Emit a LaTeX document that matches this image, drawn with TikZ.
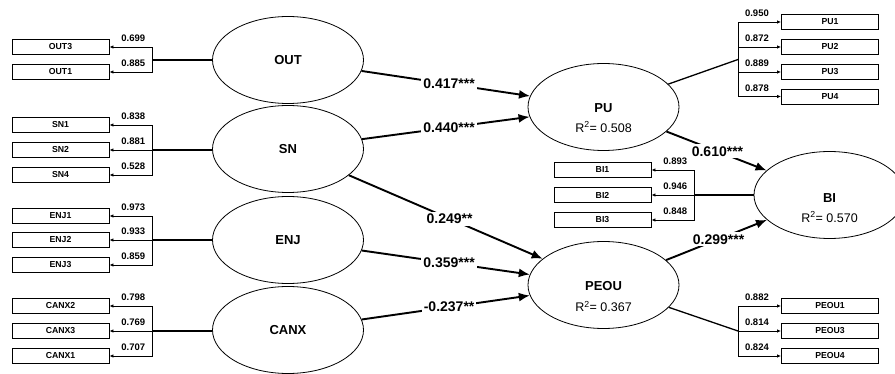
\documentclass[tikz,border=0pt]{standalone}
\usepackage{fontspec}
\setmainfont{Liberation Sans}
\usetikzlibrary{arrows.meta,shapes.geometric}
\begin{document}
\begin{tikzpicture}[x=1pt,y=-1pt,
  latent/.style={draw, ellipse, line width=0.8pt, minimum width=151pt, minimum height=87pt,
                 inner sep=0pt, font=\fontsize{13}{15}\selectfont\bfseries},
  ind/.style={draw, rectangle, line width=0.9pt, minimum width=97pt, minimum height=15pt,
              inner sep=0pt, font=\fontsize{8.7}{10}\selectfont\bfseries},
  load/.style={line width=0.9pt, -{Latex[length=4pt,width=3.5pt]}},
  stem/.style={line width=1.3pt},
  lval/.style={pos=0.72, above=4.5pt, inner sep=0pt, font=\fontsize{9.5}{11}\selectfont\bfseries},
  struct/.style={line width=1.9pt, -{Latex[length=11pt,width=9pt]}},
  coef/.style={pos=0.52, fill=white, inner sep=2pt, font=\fontsize{14}{16}\selectfont\bfseries},
  rsq/.style={inner sep=0pt, font=\fontsize{12.5}{14}\selectfont},
  lvname/.style={inner sep=0pt, font=\fontsize{13}{15}\selectfont\bfseries},
]
\useasboundingbox (0,0) rectangle (895,374);
\clip (0,0) rectangle (895,374);

% latent constructs
\node[latent] (OUT)  at (288,60)    {OUT};
\node[latent] (SN)   at (288,149)   {SN};
\node[latent] (ENJ)  at (288,240)   {ENJ};
\node[latent] (CANX) at (288,330)   {CANX};
\node[latent] (PU)   at (603.5,107) {};
\node[latent] (PEOU) at (603.5,285) {};
\node[latent] (BI)   at (829.5,195) {};
\node[lvname] (PUname)   at ([yshift=-1pt]PU.center)     {PU};
\node[lvname] (PEOUname) at ([yshift=-1.5pt]PEOU.center) {PEOU};
\node[lvname] (BIname)   at ([yshift=-3pt]BI.center)     {BI};
\node[rsq] (PUr2)   at ([yshift=-20pt]PU.center)     {R\textsuperscript{2}= 0.508};
\node[rsq] (PEOUr2) at ([yshift=-21.5pt]PEOU.center) {R\textsuperscript{2}= 0.367};
\node[rsq] (BIr2)   at ([yshift=-22pt]BI.center)     {R\textsuperscript{2}= 0.570};

% indicators, left side
\node[ind] (OUT3)  at (60.5,47)  {OUT3};
\node[ind] (OUT1)  at (60.5,72)  {OUT1};
\node[ind] (SN1)   at (60.5,125) {SN1};
\node[ind] (SN2)   at (60.5,150) {SN2};
\node[ind] (SN4)   at (60.5,175) {SN4};
\node[ind] (ENJ1)  at (60.5,216) {ENJ1};
\node[ind] (ENJ2)  at (60.5,240) {ENJ2};
\node[ind] (ENJ3)  at (60.5,265) {ENJ3};
\node[ind] (CANX2) at (60.5,306) {CANX2};
\node[ind] (CANX3) at (60.5,331) {CANX3};
\node[ind] (CANX1) at (60.5,356) {CANX1};

% indicators, right side
\node[ind] (PU1)   at (830,22)   {PU1};
\node[ind] (PU2)   at (830,47)   {PU2};
\node[ind] (PU3)   at (830,72)   {PU3};
\node[ind] (PU4)   at (830,96.5) {PU4};
\node[ind] (BI1)   at (602.5,170) {BI1};
\node[ind] (BI2)   at (602.5,195) {BI2};
\node[ind] (BI3)   at (602.5,220) {BI3};
\node[ind] (PEOU1) at (830,306)  {PEOU1};
\node[ind] (PEOU3) at (830,331)  {PEOU3};
\node[ind] (PEOU4) at (830,356)  {PEOU4};

% branching points of the measurement brackets
\coordinate (jOUT)  at (152,60);
\coordinate (jSN)   at (152,150);
\coordinate (jENJ)  at (152,240);
\coordinate (jCANX) at (152,331);
\coordinate (jPU)   at (738,59.5);
\coordinate (jBI)   at (694,195);
\coordinate (jPEOU) at (738,331);

% outer loadings
\draw[stem] (OUT.west |- jOUT) -- (jOUT);
\draw[load] (jOUT) |- node[lval] {0.699} (OUT3.east);
\draw[load] (jOUT) |- node[lval] {0.885} (OUT1.east);

\draw[stem] (SN.west |- jSN) -- (jSN);
\draw[load] (jSN) |- node[lval] {0.838} (SN1.east);
\draw[load] (jSN) |- node[lval] {0.881} (SN2.east);
\draw[load] (jSN) |- node[lval] {0.528} (SN4.east);

\draw[stem] (ENJ.west |- jENJ) -- (jENJ);
\draw[load] (jENJ) |- node[lval] {0.973} (ENJ1.east);
\draw[load] (jENJ) |- node[lval] {0.933} (ENJ2.east);
\draw[load] (jENJ) |- node[lval] {0.859} (ENJ3.east);

\draw[stem] (CANX.west |- jCANX) -- (jCANX);
\draw[load] (jCANX) |- node[lval] {0.798} (CANX2.east);
\draw[load] (jCANX) |- node[lval] {0.769} (CANX3.east);
\draw[load] (jCANX) |- node[lval] {0.707} (CANX1.east);

\draw[stem] (PU) -- (jPU);
\draw[load] (jPU) |- node[lval] {0.950} (PU1.west);
\draw[load] (jPU) |- node[lval] {0.872} (PU2.west);
\draw[load] (jPU) |- node[lval] {0.889} (PU3.west);
\draw[load] (jPU) |- node[lval] {0.878} (PU4.west);

\draw[stem] (BI.west |- jBI) -- (jBI);
\draw[load] (jBI) |- node[lval] {0.893} (BI1.east);
\draw[load] (jBI) |- node[lval] {0.946} (BI2.east);
\draw[load] (jBI) |- node[lval] {0.848} (BI3.east);

\draw[stem] (PEOU) -- (jPEOU);
\draw[load] (jPEOU) |- node[lval] {0.882} (PEOU1.west);
\draw[load] (jPEOU) |- node[lval] {0.814} (PEOU3.west);
\draw[load] (jPEOU) |- node[lval] {0.824} (PEOU4.west);

% structural paths
\draw[struct] (OUT)  -- node[coef] {0.417***} (PU);
\draw[struct] (SN)   -- node[coef] {0.440***} (PU);
\draw[struct] (SN)   -- node[coef] {0.249**}  (PEOU);
\draw[struct] (ENJ)  -- node[coef] {0.359***} (PEOU);
\draw[struct] (CANX) -- node[coef] {-0.237**} (PEOU);
\draw[struct] (PU)   -- node[coef,pos=0.51] {0.610***} (BI);
\draw[struct] (PEOU) -- node[coef] {0.299***} (BI);
\end{tikzpicture}
\end{document}
